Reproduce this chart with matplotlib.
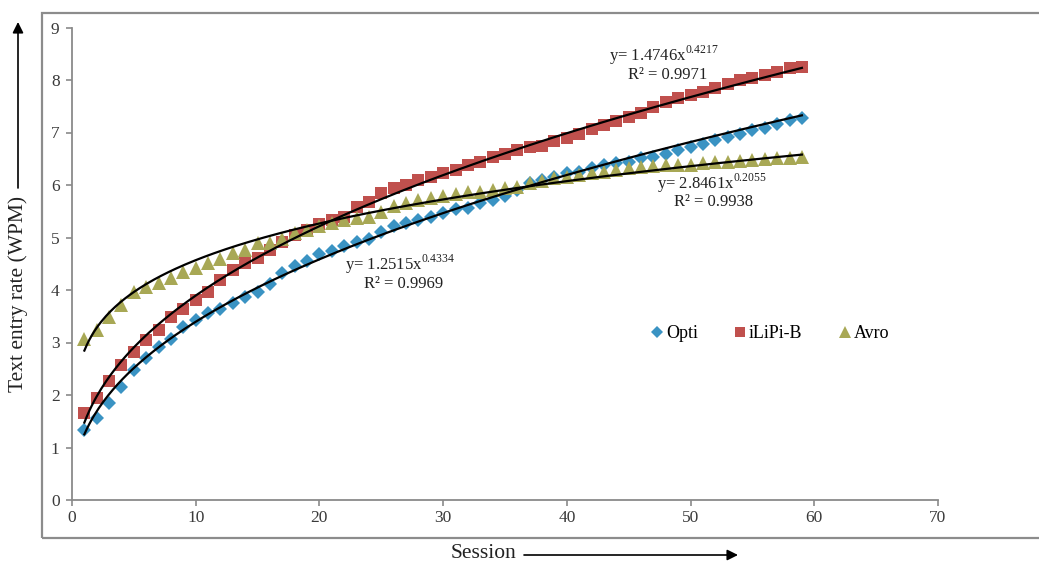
import matplotlib
matplotlib.use("Agg")
import matplotlib.pyplot as plt
import numpy as np
from matplotlib.lines import Line2D
from matplotlib.patches import Rectangle

plt.rcParams['font.family'] = ['Liberation Serif', 'DejaVu Serif']
plt.rcParams['mathtext.fontset'] = 'custom'
plt.rcParams['mathtext.rm'] = 'Liberation Serif'

sessions = list(range(1, 60))

opti = [1.33, 1.57, 1.84, 2.15, 2.47, 2.71, 2.92, 3.07, 3.29, 3.43,
        3.56, 3.64, 3.76, 3.86, 3.97, 4.12, 4.32, 4.45, 4.56, 4.69,
        4.75, 4.83, 4.92, 4.98, 5.11, 5.21, 5.27, 5.33, 5.40, 5.46,
        5.54, 5.57, 5.65, 5.71, 5.79, 5.90, 6.04, 6.10, 6.16, 6.22,
        6.25, 6.32, 6.38, 6.41, 6.44, 6.51, 6.54, 6.59, 6.66, 6.73,
        6.79, 6.86, 6.92, 6.98, 7.05, 7.09, 7.16, 7.24, 7.28]

ilipi = [1.65, 1.95, 2.27, 2.58, 2.82, 3.05, 3.24, 3.48, 3.63, 3.81,
         3.97, 4.20, 4.38, 4.52, 4.61, 4.76, 4.92, 5.05, 5.14, 5.26,
         5.33, 5.40, 5.59, 5.68, 5.85, 5.94, 6.00, 6.10, 6.16, 6.22,
         6.29, 6.38, 6.44, 6.54, 6.60, 6.67, 6.73, 6.75, 6.83, 6.89,
         6.98, 7.06, 7.14, 7.21, 7.30, 7.38, 7.49, 7.59, 7.66, 7.71,
         7.78, 7.84, 7.92, 8.00, 8.03, 8.10, 8.16, 8.22, 8.25]

avro = [3.06, 3.24, 3.49, 3.71, 3.97, 4.06, 4.13, 4.22, 4.35, 4.41,
        4.51, 4.60, 4.70, 4.77, 4.89, 4.90, 4.98, 5.08, 5.14, 5.21,
        5.28, 5.33, 5.37, 5.40, 5.48, 5.60, 5.65, 5.71, 5.75, 5.79,
        5.83, 5.87, 5.87, 5.90, 5.94, 5.97, 6.04, 6.08, 6.14, 6.16,
        6.19, 6.22, 6.25, 6.29, 6.32, 6.35, 6.36, 6.38, 6.39, 6.39,
        6.41, 6.43, 6.44, 6.46, 6.48, 6.50, 6.51, 6.52, 6.54]

# power trendline coefficients (a, b) shown on the chart: y = a x^b
fit_opti = (1.2515, 0.4334)
fit_ilipi = (1.4746, 0.4217)
fit_avro = (2.8461, 0.2055)

series_names = ['Opti', 'iLiPi-B', 'Avro']
colors = ['#3A93C3', '#C0504D', '#A8A855']
markers = ['D', 's', '^']
msizes = [7.5, 8.5, 9.5]

W, H = 1039, 563
fig = plt.figure(figsize=(W / 100, H / 100), dpi=100)
ax = fig.add_axes([72 / W, 63 / H, (938 - 72) / W, (500 - 27.5) / H])

for vals, c, m, ms in zip([opti, ilipi, avro], colors, markers, msizes):
    ax.plot(sessions, vals, linestyle='none', marker=m, color=c,
            markersize=ms, markeredgewidth=0, zorder=2)

xs = np.linspace(1, 59, 300)
for a, b in [fit_opti, fit_ilipi, fit_avro]:
    ax.plot(xs, a * xs ** b, color='black', lw=1.6, zorder=3)

ax.set_xlim(0, 70)
ax.set_ylim(0, 9)
ax.set_xticks(range(0, 71, 10))
ax.set_yticks(range(0, 10))
for s in ['top', 'right']:
    ax.spines[s].set_visible(False)
for s in ['left', 'bottom']:
    ax.spines[s].set_color('#8a8a8a')
    ax.spines[s].set_linewidth(1.3)
ax.tick_params(axis='both', direction='out', length=4, width=1.2,
               color='#8a8a8a', labelsize=12.5, labelcolor='#3a3a3a')
ax.tick_params(axis='y', pad=5)
ax.tick_params(axis='x', pad=3)

# legend
handles = [Line2D([], [], linestyle='none', marker=m, color=c, markersize=ms * 0.85,
                  markeredgewidth=0)
           for m, c, ms in zip(markers, colors, msizes)]
fig.legend(handles, series_names, loc='center', bbox_to_anchor=(770 / W, 1 - 334 / H),
           ncol=3, frameon=False, handlelength=0.7, handletextpad=0.15,
           columnspacing=2.0, prop={'family': 'Liberation Serif', 'size': 13})

# trendline equations
def fx(x):
    return x / W

def fy(y):
    return 1 - y / H

eqs = [((664, 55), '1.4746', '0.4217', (668, 75), '0.9971'),
       ((712, 183), '2.8461', '0.2055', (714, 202), '0.9938'),
       ((400, 264), '1.2515', '0.4334', (404, 284), '0.9969')]
for (ex, ey), a, b, (rx, ry), r2 in eqs:
    fig.text(fx(ex), fy(ey), r'y= ' + a + r'x$^{\mathrm{' + b + r'}}$',
             ha='center', va='center', fontsize=12, color='#222222')
    fig.text(fx(rx), fy(ry), 'R² = ' + r2, ha='center', va='center',
             fontsize=12, color='#222222')

# axis titles with arrows
fig.text(fx(18), fy(294), 'Text entry rate (WPM)', rotation=90, ha='center',
         va='center', fontsize=15.5, color='#222222')
fig.text(fx(483), fy(553), 'Session', ha='center', va='center',
         fontsize=15.5, color='#222222')
ax.annotate('', xy=(18, H - 22), xytext=(18, H - 188), xycoords='figure pixels',
            textcoords='figure pixels',
            arrowprops=dict(arrowstyle='-|>', color='black', lw=1.2,
                            mutation_scale=16, shrinkA=0, shrinkB=0))
ax.annotate('', xy=(738, H - 555), xytext=(524, H - 555), xycoords='figure pixels',
            textcoords='figure pixels',
            arrowprops=dict(arrowstyle='-|>', color='black', lw=1.2,
                            mutation_scale=16, shrinkA=0, shrinkB=0))

# outer frame
fig.add_artist(Rectangle((42 / W, 25 / H), 1.05 - 42 / W, (538 - 13) / H,
                         transform=fig.transFigure, fill=False,
                         edgecolor='#8c8c8c', lw=1.6, clip_on=False))

fig.savefig('out.png', dpi=100)
